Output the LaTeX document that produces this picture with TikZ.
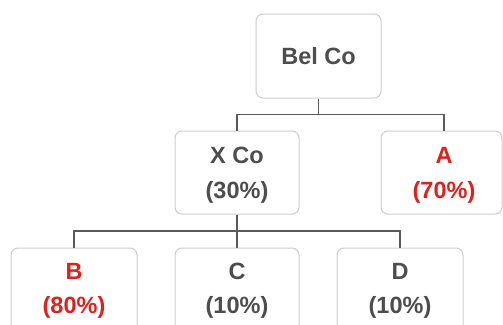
\documentclass[tikz,border=0pt]{standalone}
\usepackage{fontspec}
\setmainfont{Liberation Sans}
\definecolor{txtgray}{HTML}{4D4D4D}
\definecolor{txtred}{HTML}{E0201C}
\definecolor{boxline}{HTML}{CDCDCD}
\definecolor{conline}{HTML}{5A5A5A}
\begin{document}
\begin{tikzpicture}[x=1pt,y=-1pt,
  box/.style={draw=boxline, line width=1pt, rounded corners=7pt, fill=white, inner sep=0pt},
  lbl/.style={anchor=base, inner sep=0pt, font=\fontsize{23.5}{28}\selectfont\bfseries},
  gray/.style={text=txtgray},
  red/.style={text=txtred},
  con/.style={draw=conline, line width=1.3pt}]
\useasboundingbox (0,0) rectangle (503,324);
\clip (0,0) rectangle (503,324);
% boxes
\node[box, minimum width=125pt, minimum height=84pt] (bel) at (318.5,56) {};
\node[box, minimum width=124pt, minimum height=83pt] (xco) at (237,172.5) {};
\node[box, minimum width=121pt, minimum height=83pt] (a) at (441.5,172.5) {};
\node[box, minimum width=126pt, minimum height=100pt] (b) at (74,298) {};
\node[box, minimum width=124pt, minimum height=100pt] (c) at (237,298) {};
\node[box, minimum width=126pt, minimum height=100pt] (d) at (400,298) {};
% texts
\node[lbl, gray] (tbel) at (318.5,64) {Bel Co};
\node[lbl, gray] (txco) at (237,163) {X Co};
\node[lbl, gray] (pxco) at (237,198) {(30\%)};
\node[lbl, red] (ta) at (444,163) {A};
\node[lbl, red] (pa) at (444,198) {(70\%)};
\node[lbl, red] (tb) at (74,279) {B};
\node[lbl, red] (pb) at (74,313) {(80\%)};
\node[lbl, gray] (tc) at (237,279) {C};
\node[lbl, gray] (pc) at (237,313) {(10\%)};
\node[lbl, gray] (td) at (400,279) {D};
\node[lbl, gray] (pd) at (400,313) {(10\%)};
% connectors
\coordinate (j1) at (318.5,114.5);
\coordinate (j2) at (237,231);
\draw[con] (bel.south) -- (j1);
\draw[con] (j1) -| (xco.north);
\draw[con] (j1) -| ([xshift=2.5pt]a.north);
\draw[con] (xco.south) -- (j2);
\draw[con] (j2) -| (b.north);
\draw[con] (j2) -- (c.north);
\draw[con] (j2) -| (d.north);
\end{tikzpicture}
\end{document}
